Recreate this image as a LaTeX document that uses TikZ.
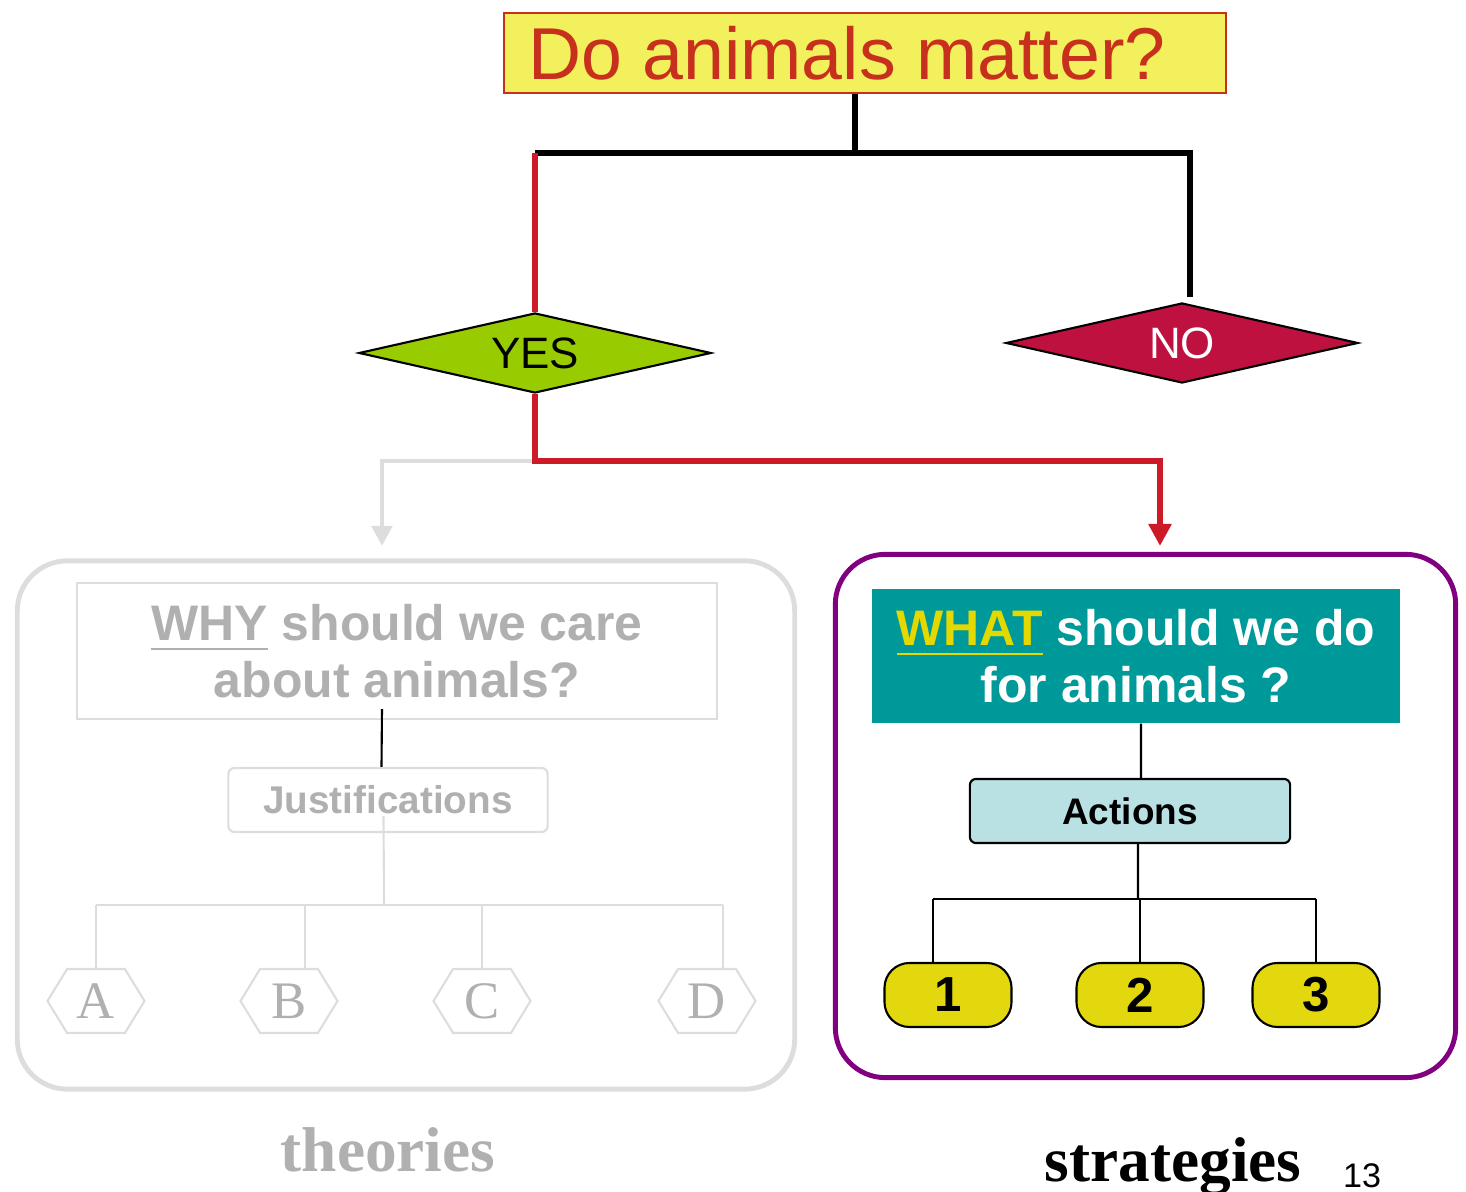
\documentclass[tikz,border=0pt]{standalone}
\usepackage{fontspec}
\setmainfont{Liberation Serif}
\setsansfont{Liberation Sans}
\usetikzlibrary{shapes.geometric,shapes.symbols,arrows.meta,positioning}
\definecolor{titleyellow}{HTML}{F2F05C}
\definecolor{titlered}{HTML}{C8301E}
\definecolor{yesgreen}{HTML}{99CC00}
\definecolor{nored}{HTML}{BE1140}
\definecolor{linered}{HTML}{CC1A28}
\definecolor{lightgrey}{HTML}{DDDDDD}
\definecolor{textgrey}{HTML}{B0B0B0}
\definecolor{whatteal}{HTML}{009999}
\definecolor{whatyellow}{HTML}{E3D800}
\definecolor{actionfill}{HTML}{B9E0E2}
\definecolor{pillyellow}{HTML}{E3D80E}
\definecolor{framepurple}{HTML}{800080}
\newcommand{\ulword}[1]{\setbox0\hbox{#1}\rlap{\rule[-0.2em]{\wd0}{0.8pt}}\box0\relax}

\begin{document}
\begin{tikzpicture}
   [
   x=0.01cm, y=-0.01cm, font=\sffamily,
   titlebox/.style={rectangle, draw=titlered, fill=titleyellow, line width=0.6pt, minimum width=7.22cm, minimum height=0.8cm, text=titlered, font=\sffamily\fontsize{20.9}{24}\selectfont},
   yesball/.style={diamond, draw=black, fill=yesgreen, line width=0.6pt, aspect=4.4, minimum width=3.52cm, minimum height=0.8cm, inner sep=0pt, font=\sffamily\fontsize{12.5}{14}\selectfont},
   noball/.style={yesball, fill=nored, text=white},
   greyframe/.style={rectangle, rounded corners=0.5cm, draw=lightgrey, line width=1.4pt, minimum width=7.77cm, minimum height=5.28cm},
   purpleframe/.style={rectangle, rounded corners=0.5cm, draw=framepurple, line width=1.4pt, minimum width=6.2cm, minimum height=5.23cm},
   whybox/.style={rectangle, draw=lightgrey, line width=0.6pt, fill=white, align=center, text=textgrey, minimum width=6.4cm, minimum height=1.36cm, font=\sffamily\bfseries\fontsize{14.2}{16.2}\selectfont},
   whatbox/.style={rectangle, fill=whatteal, align=center, text=white, minimum width=5.28cm, minimum height=1.34cm, font=\sffamily\bfseries\fontsize{14.2}{16.2}\selectfont},
   justbox/.style={rectangle, rounded corners=0.06cm, draw=lightgrey, line width=0.6pt, text=textgrey, minimum width=3.19cm, minimum height=0.64cm, font=\sffamily\bfseries\fontsize{11}{13}\selectfont},
   actionbox/.style={rectangle, rounded corners=0.06cm, draw=black, fill=actionfill, line width=0.6pt, minimum width=3.2cm, minimum height=0.64cm, font=\sffamily\bfseries\fontsize{10.5}{12}\selectfont},
   hexball/.style={signal, signal to=west and east, signal pointer angle=117, draw=lightgrey, line width=0.6pt, fill=white, inner sep=0pt, minimum width=0.97cm, minimum height=0.64cm, text=textgrey, font=\rmfamily\fontsize{15}{17}\selectfont},
   pillball/.style={rectangle, rounded corners=0.25cm, draw=black, fill=pillyellow, line width=0.6pt, minimum width=1.27cm, minimum height=0.64cm, font=\sffamily\bfseries\fontsize{14}{16}\selectfont},
   blackline/.style={draw=black, line width=1.7pt},
   redline/.style={draw=linered, line width=1.7pt},
   greyline/.style={draw=lightgrey, line width=1.4pt},
   thinline/.style={draw=black, line width=0.6pt},
   greytree/.style={draw=lightgrey, line width=0.6pt},
   ]
 \useasboundingbox (0,0) rectangle (1466,1192);

 % question and answers
 \node at (865,53) [titlebox] (q) {Do animals matter?\hspace*{0.36cm}};
 \node at (535,353) [yesball] (yes) {YES};
 \node at (1182,343) [noball] (no) {NO};
 \coordinate (fork) at (855,153);
 \coordinate (split) at (535,461);
 \coordinate (ltip) at (382,546);
 \coordinate (rtip) at (1160,546);

 \draw[blackline] (fork |- q.south) -- (fork);
 \draw[blackline] (yes |- fork) -- (fork) -| ([xshift=0.08cm,yshift=0.05cm]no.north);
 \draw[redline] (yes |- fork) -- (yes.north);
 \draw[greyline, -{Triangle[length=0.2cm, width=0.2cm]}] (split) -| (ltip);
 \draw[redline, -{Triangle[length=0.22cm, width=0.22cm]}] (yes.south) -- (split) -| (rtip);

 % theories side
 \node at (406,825) [greyframe] (whyframe) {};
 \node at (397,651) [whybox] (why) {\ulword{WHY} should we care\\about animals?};
 \node at (388,800) [justbox] (just) {Justifications};
 \node at (96,1001) [hexball] (hA) {A};
 \node at (289,1001) [hexball] (hB) {B};
 \node at (482,1001) [hexball] (hC) {C};
 \node at (707,1001) [hexball] (hD) {D};
 \coordinate (tj) at (384,905);
 \draw[thinline] ([xshift=-0.15cm,yshift=0.11cm]why.south) -- ([xshift=-0.065cm]just.north);
 \draw[greytree] ([xshift=-0.045cm,yshift=0.17cm]just.south) -- (tj);
 \draw[greytree] (hA.north |- tj) -- ([xshift=0.16cm]hD.north |- tj);
 \foreach \n/\dx in {A/0, B/0.16, C/0, D/0.16}
   \draw[greytree] ([xshift=\dx cm]h\n.north) -- ([xshift=\dx cm]h\n.north |- tj);

 % strategies side
 \node at (1145.5,816) [purpleframe] (whatframe) {};
 \node at (1136,656) [whatbox] (what) {\textcolor{whatyellow}{\ulword{WHAT}} should we do\\for animals ?};
 \node at (1130,811) [actionbox] (act) {Actions};
 \node at (948,995) [pillball] (p1) {1};
 \node at (1140,995) [pillball] (p2) {2};
 \node at (1316,995) [pillball] (p3) {3};
 \coordinate (tr) at (1138,899);
 \draw[thinline] ([xshift=0.05cm]what.south) -- ([xshift=0.11cm]act.north);
 \draw[thinline] ([xshift=0.08cm]act.south) -- (tr);
 \draw[thinline] ([xshift=-0.15cm]p1.north |- tr) -- (p3.north |- tr);
 \foreach \n/\dx in {1/-0.15, 2/0, 3/0}
   \draw[thinline] ([xshift=\dx cm]p\n.north) -- ([xshift=\dx cm]p\n.north |- tr);

 % captions
 \node[anchor=base, text=textgrey, font=\rmfamily\bfseries\fontsize{18}{20}\selectfont] at (388,1172) (theo) {theories};
 \node[anchor=base, font=\rmfamily\bfseries\fontsize{18}{20}\selectfont] at (1173,1182) (strat) {strategies};
 \node[anchor=base, font=\sffamily\fontsize{9.7}{11}\selectfont] at (1362,1188) (pg) {13};
\end{tikzpicture}
\end{document}
